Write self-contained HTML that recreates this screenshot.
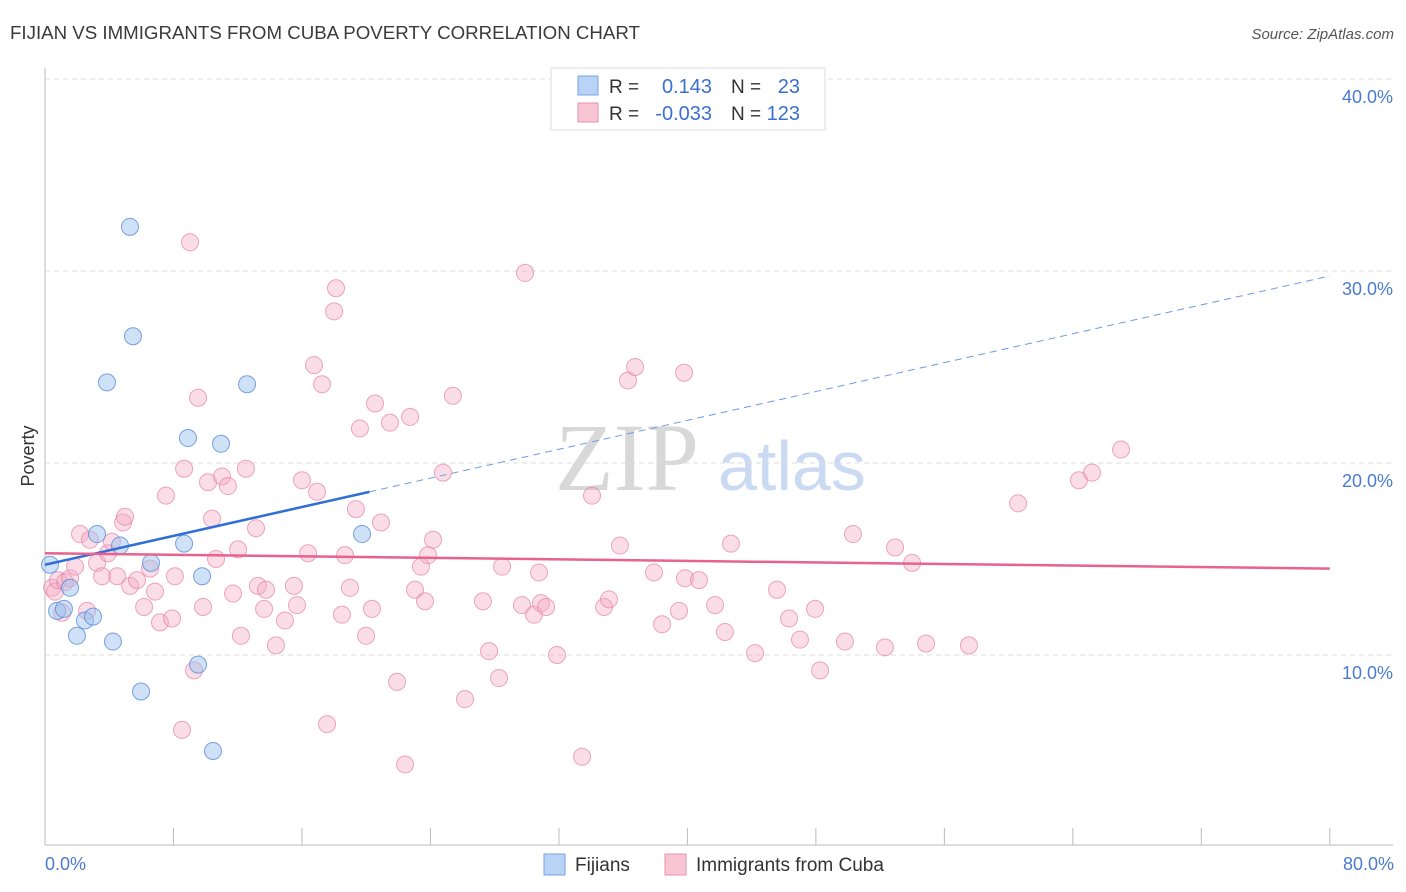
<!DOCTYPE html>
<html><head><meta charset="utf-8"><style>
body{margin:0;background:#fff;}
svg{display:block;font-family:"Liberation Sans",sans-serif;}
</style></head><body>
<svg id="chart" width="1406" height="892">
<text x="10" y="39" font-size="18.7" fill="#3a3a3a">FIJIAN VS IMMIGRANTS FROM CUBA POVERTY CORRELATION CHART</text>
<text x="1394" y="39" font-size="15" fill="#555" font-style="italic" text-anchor="end">Source: ZipAtlas.com</text>
<text x="555" y="490" font-size="96" fill="#d8d8d8" font-family="Liberation Serif,serif">ZIP</text>
<text x="718" y="490" font-size="70" fill="#c9daf2">atlas</text>
<g id="grid"></g>
<g id="axes"></g>
<g id="pts"></g>
<g id="trends"></g>
<text x="34" y="456" font-size="18" fill="#333" transform="rotate(-90 34 456)" text-anchor="middle">Poverty</text>
<text x="45" y="870" font-size="18" fill="#4a7bd0">0.0%</text>
<text x="1394" y="870" font-size="18" fill="#4a7bd0" text-anchor="end">80.0%</text>
<g>
<rect x="551" y="68" width="274" height="62" fill="#fff" stroke="#ddd"/>
<rect x="578" y="76" width="20" height="19" fill="#b8d3f5" stroke="#7aa3df"/>
<rect x="578" y="103" width="20" height="19" fill="#f8c5d4" stroke="#e891ad"/>
<text x="609" y="93" font-size="19" fill="#333">R =</text>
<text x="712" y="93" font-size="20" fill="#3b6fd0" text-anchor="end">0.143</text>
<text x="731" y="93" font-size="19" fill="#333">N =</text>
<text x="800" y="93" font-size="20" fill="#3b6fd0" text-anchor="end">23</text>
<text x="609" y="120" font-size="19" fill="#333">R =</text>
<text x="712" y="120" font-size="20" fill="#3b6fd0" text-anchor="end">-0.033</text>
<text x="731" y="120" font-size="19" fill="#333">N =</text>
<text x="800" y="120" font-size="20" fill="#3b6fd0" text-anchor="end">123</text>
</g>
<g>
<rect x="544" y="854" width="21" height="21" fill="#b8d3f5" stroke="#7aa3df"/>
<text x="575" y="871" font-size="19" fill="#333">Fijians</text>
<rect x="665" y="854" width="21" height="21" fill="#f8c5d4" stroke="#e891ad"/>
<text x="696" y="871" font-size="19" fill="#333">Immigrants from Cuba</text>
</g>
</svg>
<script>
const yTicks=[10,20,30,40];
const yTickLabels=["10.0%","20.0%","30.0%","40.0%"];
const xTicks=[0,8,16,24,32,40,48,56,64,72,80];
const fijiX=[0.31,0.75,1.18,1.56,1.99,2.49,2.99,3.24,3.86,4.23,4.67,5.29,5.48,5.98,6.6,8.66,8.9,9.53,9.78,10.46,10.96,12.58,19.74];
const fijiY=[14.7,12.3,12.4,13.5,11.0,11.8,12.0,16.3,24.2,10.7,15.7,32.3,26.6,8.1,14.8,15.8,21.3,9.5,14.1,5.0,21.0,24.1,16.3];
const cubaX=[0.44,0.62,0.81,1.06,1.25,1.56,1.87,2.18,2.62,2.80,3.24,3.55,3.92,4.17,4.49,4.86,4.98,5.30,5.73,6.17,6.54,6.85,7.16,7.53,7.91,8.09,8.53,8.66,9.03,9.28,9.53,9.84,10.15,10.40,10.65,11.02,11.39,11.71,12.02,12.20,12.51,13.14,13.26,13.64,13.76,14.38,14.94,15.50,15.69,16.00,16.38,16.75,16.94,17.25,17.56,18.12,18.0,18.49,18.68,18.99,19.36,19.61,19.99,20.36,20.55,20.92,21.48,21.92,22.42,22.73,23.04,23.41,23.66,23.85,24.16,24.78,25.40,26.15,27.27,27.65,28.27,28.46,29.70,29.89,30.45,30.76,30.88,31.20,31.88,33.44,34.06,34.81,35.12,35.80,36.30,36.74,37.92,38.42,39.48,39.79,39.85,40.72,41.72,42.34,42.71,44.21,45.58,46.33,47.01,47.95,48.26,49.81,50.31,52.30,52.93,53.99,54.86,57.53,60.59,64.38,65.19,67.0];
const cubaY=[13.5,13.3,13.9,12.2,13.8,14.0,14.6,16.3,12.3,16.0,14.8,14.1,15.3,15.9,14.1,16.9,17.2,13.6,13.9,12.5,14.5,13.3,11.7,18.3,11.9,14.1,6.1,19.7,31.5,9.2,23.4,12.5,19.0,17.1,15.0,19.3,18.8,13.2,15.5,11.0,19.7,16.6,13.6,12.4,13.4,10.5,11.8,13.6,12.6,19.1,15.3,25.1,18.5,24.1,6.4,29.1,27.9,12.1,15.2,13.5,17.6,21.8,11.0,12.4,23.1,16.9,22.1,8.6,4.3,22.4,13.4,14.6,12.8,15.2,16.0,19.5,23.5,7.7,12.8,10.2,8.8,14.6,12.6,29.9,12.1,14.3,12.7,12.5,10.0,4.7,18.3,12.5,12.9,15.7,24.3,25.0,14.3,11.6,12.3,24.7,14.0,13.9,12.6,11.2,15.8,10.1,13.4,11.9,10.8,12.4,9.2,10.7,16.3,10.4,15.6,14.8,10.6,10.5,17.9,19.1,19.5,20.7];
const fijiTrend=[14.7,0.188]; // intercept, slope
const cubaTrend=[15.3,-0.01];
const fijiSolidEnd=20.2;
const NS='http://www.w3.org/2000/svg';
const X=v=>45+v*16.06, Y=v=>847-v*19.2;
function mk(tag,attrs,parent){const e=document.createElementNS(NS,tag);for(const k in attrs)e.setAttribute(k,attrs[k]);parent.appendChild(e);return e;}
const grid=document.getElementById('grid'),axes=document.getElementById('axes'),pts=document.getElementById('pts'),tr=document.getElementById('trends');
yTicks.forEach((t,i)=>{
 const l=mk('line',{x1:45,x2:1393,y1:Y(t),y2:Y(t),stroke:'#ddd','stroke-dasharray':'5,4'},grid);
 
 
 const tx=mk('text',{x:1393,y:Y(t)+24,'font-size':18,fill:'#4a7bd0','text-anchor':'end'},grid);
 tx.textContent=yTickLabels[i];
 
 
});
const ya=mk('line',{x1:45,x2:45,y1:68,y2:845,stroke:'#bbb'},axes);


const xa=mk('line',{x1:45,x2:1393,y1:845,y2:845,stroke:'#bbb'},axes);


xTicks.forEach(t=>{const l=mk('line',{x1:X(t),x2:X(t),y1:828,y2:845,stroke:'#bbb'},axes);
 
 });
cubaX.forEach((x,i)=>{const c=mk('circle',{cx:X(x),cy:Y(cubaY[i]),r:8.5,fill:'rgba(244,170,195,0.4)',stroke:'rgba(230,130,165,0.7)','stroke-width':1},pts);
 
 });
fijiX.forEach((x,i)=>{const c=mk('circle',{cx:X(x),cy:Y(fijiY[i]),r:8.5,fill:'rgba(160,195,240,0.5)',stroke:'rgba(90,140,215,0.8)','stroke-width':1},pts);
 
 });
const fy=v=>fijiTrend[0]+fijiTrend[1]*v, cy=v=>cubaTrend[0]+cubaTrend[1]*v;
const a=mk('line',{x1:X(0),y1:Y(fy(0)),x2:X(fijiSolidEnd),y2:Y(fy(fijiSolidEnd)),stroke:'#2f6fd6','stroke-width':2.5},tr);


const b=mk('line',{x1:X(fijiSolidEnd),y1:Y(fy(fijiSolidEnd)),x2:X(80),y2:Y(fy(80)),stroke:'#6b9be0','stroke-width':1,'stroke-dasharray':'7,5'},tr);


const c=mk('line',{x1:X(0),y1:Y(cy(0)),x2:X(80),y2:Y(cy(80)),stroke:'#e8628f','stroke-width':2.5},tr);


</script>
</body></html>
